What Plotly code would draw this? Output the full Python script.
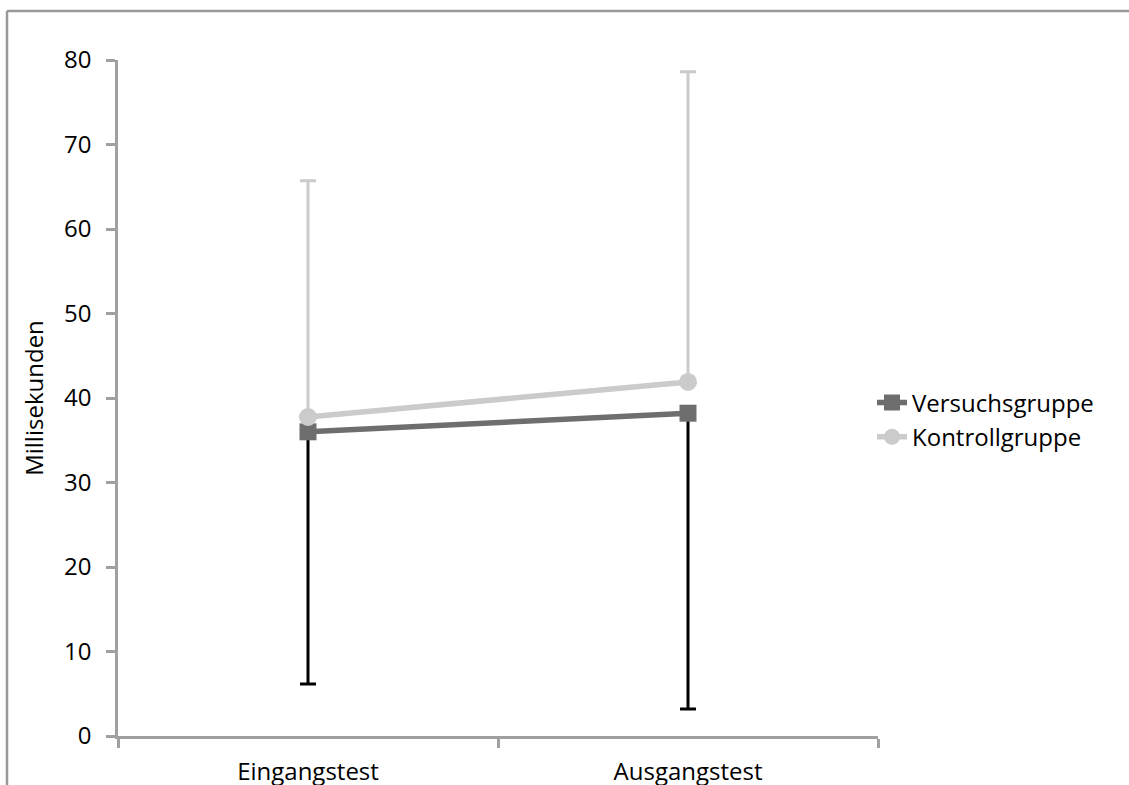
import plotly.graph_objects as go

# Messzeitpunkte
categories = ["Eingangstest", "Ausgangstest"]

# Mittelwerte (Millisekunden)
versuch_mean = [36.0, 38.2]
kontroll_mean = [37.75, 41.9]

# Standardabweichungen: Versuchsgruppe nach unten, Kontrollgruppe nach oben
versuch_sd = [29.85, 35.0]
kontroll_sd = [27.95, 36.7]

y_ticks = [0, 10, 20, 30, 40, 50, 60, 70, 80]

DARK = "#6e6e6e"
LIGHT = "#cbcbcb"
AXIS = "#a0a0a0"
FONT = "Open Sans"

fig = go.Figure()

fig.add_trace(go.Scatter(
    x=categories, y=versuch_mean, name="Versuchsgruppe",
    mode="lines+markers",
    line=dict(color=DARK, width=5.5),
    marker=dict(symbol="square", size=17, color=DARK),
    error_y=dict(type="data", symmetric=False,
                 array=[0 for _ in versuch_sd], arrayminus=versuch_sd,
                 color="#000000", thickness=3, width=8),
))

fig.add_trace(go.Scatter(
    x=categories, y=kontroll_mean, name="Kontrollgruppe",
    mode="lines+markers",
    line=dict(color=LIGHT, width=5.5),
    marker=dict(symbol="circle", size=18, color=LIGHT),
    error_y=dict(type="data", symmetric=False,
                 array=kontroll_sd, arrayminus=[0 for _ in kontroll_sd],
                 color=LIGHT, thickness=3, width=8),
))

# Plotbereich in Pixeln
L, R, T, B = 118, 251, 60, 49
W, H = 1129, 785
pw, ph = W - L - R, H - T - B


def px_x(p):
    return (p - L) / pw


def px_y(p):
    return (H - B - p) / ph


# Rahmen links und oben
frame = dict(color="#999999", width=2.5)
fig.add_shape(type="line", xref="paper", yref="paper",
              x0=px_x(7), x1=px_x(7), y0=px_y(11), y1=px_y(800), line=frame)
fig.add_shape(type="line", xref="paper", yref="paper",
              x0=px_x(7), x1=px_x(1140), y0=px_y(11), y1=px_y(11), line=frame)

fig.update_layout(
    width=W, height=H,
    margin=dict(l=L, r=R, t=T, b=B, autoexpand=False),
    paper_bgcolor="white", plot_bgcolor="white",
    font=dict(family=FONT, size=24, color="#000000"),
    showlegend=True,
    legend=dict(x=px_x(872), y=px_y(420), xanchor="left", yanchor="middle",
                font=dict(family=FONT, size=24, color="#000000"),
                bgcolor="rgba(0,0,0,0)"),
    xaxis=dict(
        type="category", range=[-0.5, 1.5], automargin=False,
        showline=True, linecolor=AXIS, linewidth=2.5,
        ticks="outside", tickson="boundaries", ticklen=9, tickwidth=2.5,
        tickcolor=AXIS, showgrid=False, zeroline=False,
        tickfont=dict(family=FONT, size=24),
        ticklabelstandoff=12,
    ),
    yaxis=dict(
        range=[0, 80], tickvals=y_ticks, automargin=False,
        ticktext=[str(v) for v in y_ticks],
        showline=True, linecolor=AXIS, linewidth=2.5,
        ticks="outside", ticklen=9, tickwidth=2.5, tickcolor=AXIS,
        showgrid=False, zeroline=False,
        tickfont=dict(family=FONT, size=24),
        ticklabelstandoff=10,
        title=dict(text="Millisekunden", font=dict(family=FONT, size=24),
                   standoff=14),
    ),
)

fig.write_html("out.html")
